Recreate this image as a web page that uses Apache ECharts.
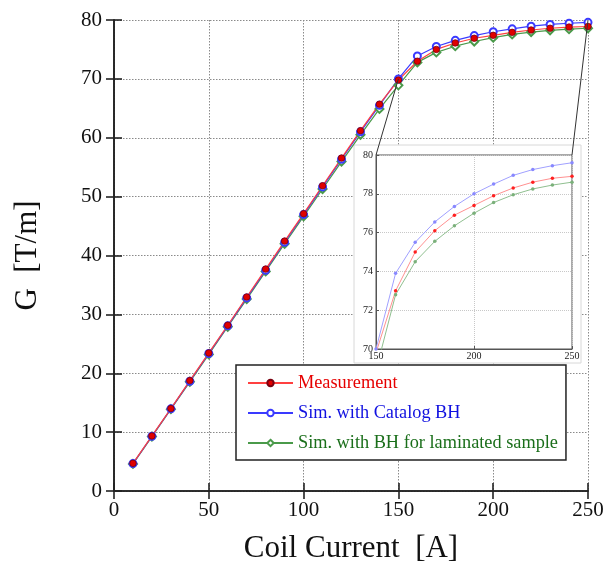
<!DOCTYPE html>
<html>
<head>
<meta charset="utf-8">
<script src="https://cdn.jsdelivr.net/npm/echarts@6/dist/echarts.min.js"></script>
<style>
  html, body { margin: 0; padding: 0; background: #fff; }
  #chart { width: 610px; height: 574px; }
</style>
</head>
<body>
<div id="chart"></div>
<script>
// Coil current (A) at each measured / simulated point
const currents = [10, 20, 30, 40, 50, 60, 70, 80, 90, 100, 110, 120, 130, 140, 150,
                  160, 170, 180, 190, 200, 210, 220, 230, 240, 250];
// Field gradient G (T/m)
const measured = [4.7, 9.35, 14.0, 18.75, 23.45, 28.15, 32.95, 37.7, 42.45, 47.1,
                  51.85, 56.55, 61.2, 65.7, 69.8, 73.0, 75.0, 76.1, 76.9, 77.4,
                  77.9, 78.3, 78.6, 78.8, 78.9];
const simCatalog = [4.65, 9.3, 13.95, 18.65, 23.35, 28.05, 32.8, 37.5, 42.25, 46.95,
                    51.65, 56.35, 61.0, 65.5, 70.0, 73.9, 75.5, 76.55, 77.35, 78.0,
                    78.5, 78.95, 79.25, 79.45, 79.6];
const simLaminated = [4.6, 9.25, 13.9, 18.55, 23.2, 27.9, 32.6, 37.3, 42.0, 46.65,
                      51.3, 55.95, 60.5, 64.9, 68.9, 72.8, 74.5, 75.55, 76.35, 77.0,
                      77.55, 77.95, 78.25, 78.45, 78.6];

const seriesNames = ['Measurement', 'Sim. with Catalog BH', 'Sim. with BH for laminated sample'];

// Axis ranges: main plot and the magnified saturation region
const mainX = { min: 0, max: 250, step: 50 };
const mainY = { min: 0, max: 80, step: 10 };
const zoomX = { min: 150, max: 250, step: 50 };
const zoomY = { min: 70, max: 80, step: 2 };

const serif = '"Liberation Serif", "DejaVu Serif", serif';
const pairs = ys => currents.map((x, i) => [x, ys[i]]);

const chart = echarts.init(document.getElementById('chart'), null, { renderer: 'canvas' });

const mainSplit = { show: true, lineStyle: { color: '#8a8a8a', type: [1.5, 1.5], width: 1 } };
const zoomSplit = { show: true, lineStyle: { color: '#c8c8c8', type: [1, 1], width: 1 } };

function mainAxis(extra) {
  return Object.assign({
    type: 'value', gridIndex: 0,
    axisLine: { show: true, lineStyle: { color: '#222', width: 1.6 } },
    axisTick: { show: true, inside: true, length: 8, lineStyle: { color: '#222', width: 1.6 } },
    axisLabel: { show: false },
    splitLine: { show: false }
  }, extra);
}
function zoomAxis(extra) {
  return Object.assign({
    type: 'value', gridIndex: 1, z: 4,
    axisLine: { show: true, lineStyle: { color: '#555', width: 1 } },
    axisTick: { show: true, inside: true, length: 3, lineStyle: { color: '#555', width: 1 } },
    axisLabel: { show: false },
    splitLine: { show: false }
  }, extra);
}

const option = {
  animation: false,
  backgroundColor: '#fff',
  grid: [
    { left: 114, right: 22, top: 20, bottom: 83 },
    { left: 376, top: 155, width: 196, height: 194, z: 4,
      show: true, borderColor: '#555', borderWidth: 1, backgroundColor: 'transparent' }
  ],
  xAxis: [
    mainAxis({
      min: mainX.min, max: mainX.max, interval: mainX.step,
      axisLabel: { show: true, fontFamily: serif, fontSize: 21, color: '#111', margin: 9 },
      splitLine: mainSplit,
      name: 'Coil Current  [A]', nameLocation: 'middle', nameGap: 42,
      nameTextStyle: { fontFamily: serif, fontSize: 31, color: '#111' }
    }),
    mainAxis({ min: mainX.min, max: mainX.max, interval: mainX.step, position: 'top' }),
    zoomAxis({
      min: zoomX.min, max: zoomX.max, interval: zoomX.step,
      axisLabel: { show: true, fontFamily: serif, fontSize: 10, color: '#222', margin: 2 },
      splitLine: zoomSplit
    })
  ],
  yAxis: [
    mainAxis({
      min: mainY.min, max: mainY.max, interval: mainY.step,
      axisLabel: { show: true, fontFamily: serif, fontSize: 21, color: '#111', margin: 12 },
      splitLine: mainSplit,
      name: 'G  [T/m]', nameLocation: 'middle', nameGap: 71,
      nameTextStyle: { fontFamily: serif, fontSize: 31, color: '#111' }
    }),
    mainAxis({ min: mainY.min, max: mainY.max, interval: mainY.step, position: 'right' }),
    zoomAxis({
      min: zoomY.min, max: zoomY.max, interval: zoomY.step,
      axisLabel: { show: true, fontFamily: serif, fontSize: 10, color: '#222', margin: 3 },
      splitLine: zoomSplit
    })
  ],
  legend: {
    orient: 'vertical', left: 236, top: 365, z: 10,
    padding: [9, 8, 8, 11], itemGap: 12, itemWidth: 45, itemHeight: 8,
    backgroundColor: '#fff', borderColor: '#222', borderWidth: 1.5, borderRadius: 0,
    textStyle: { fontFamily: serif, fontSize: 18.3 },
    data: [
      { name: seriesNames[0], textStyle: { color: '#e60000' } },
      { name: seriesNames[1], textStyle: { color: '#1010e0' } },
      { name: seriesNames[2], textStyle: { color: '#1a6e1a' } }
    ]
  },
  series: [
    // main plot
    {
      name: seriesNames[2], type: 'line', xAxisIndex: 0, yAxisIndex: 0, clip: false,
      data: pairs(simLaminated), symbol: 'emptyDiamond', symbolSize: 8,
      lineStyle: { color: '#4a9a4a', width: 1.2 },
      itemStyle: { color: '#4a9a4a', borderColor: '#4a9a4a', borderWidth: 1 }
    },
    {
      name: seriesNames[1], type: 'line', xAxisIndex: 0, yAxisIndex: 0, clip: false,
      data: pairs(simCatalog), symbol: 'emptyCircle', symbolSize: 7,
      lineStyle: { color: '#3a3aff', width: 1.2 },
      itemStyle: { color: '#3a3aff', borderColor: '#3a3aff', borderWidth: 1 }
    },
    {
      name: seriesNames[0], type: 'line', xAxisIndex: 0, yAxisIndex: 0, clip: false,
      data: pairs(measured), symbol: 'circle', symbolSize: 6.5,
      lineStyle: { color: '#ff4040', width: 1.2 },
      itemStyle: { color: '#e00000', borderColor: '#7a0010', borderWidth: 0.8 }
    },
    // magnified region
    {
      name: seriesNames[2], type: 'line', xAxisIndex: 2, yAxisIndex: 2, z: 5, clip: true,
      data: pairs(simLaminated), symbol: 'circle', symbolSize: 3.5,
      lineStyle: { color: '#8fbf8f', width: 1 },
      itemStyle: { color: '#7ab07a' }
    },
    {
      name: seriesNames[1], type: 'line', xAxisIndex: 2, yAxisIndex: 2, z: 5, clip: true,
      data: pairs(simCatalog), symbol: 'circle', symbolSize: 3.5,
      lineStyle: { color: '#a0a0ff', width: 1 },
      itemStyle: { color: '#8888ff' }
    },
    {
      name: seriesNames[0], type: 'line', xAxisIndex: 2, yAxisIndex: 2, z: 5, clip: true,
      data: pairs(measured), symbol: 'circle', symbolSize: 3.5,
      lineStyle: { color: '#ff9090', width: 1 },
      itemStyle: { color: '#ff2020' }
    }
  ]
};
chart.setOption(option);

// White panel behind the magnified plot and lines tying it to the main curve
const pLow = chart.convertToPixel({ gridIndex: 0 }, [zoomX.min, zoomY.min]);
const pHigh = chart.convertToPixel({ gridIndex: 0 }, [zoomX.max, zoomY.max]);
const qLeft = chart.convertToPixel({ gridIndex: 1 }, [zoomX.min, zoomY.max]);
const qRight = chart.convertToPixel({ gridIndex: 1 }, [zoomX.max, zoomY.max]);
const qBottom = chart.convertToPixel({ gridIndex: 1 }, [zoomX.min, zoomY.min]);

chart.setOption({
  graphic: [
    {
      type: 'rect', z: 3,
      shape: { x: qLeft[0] - 22, y: qLeft[1] - 10, width: (qRight[0] - qLeft[0]) + 31, height: (qBottom[1] - qLeft[1]) + 24 },
      style: { fill: '#fff', stroke: '#d8d8d8', lineWidth: 1 }
    },
    {
      type: 'line', z: 6,
      shape: { x1: pLow[0], y1: pLow[1], x2: qLeft[0], y2: qLeft[1] },
      style: { stroke: '#333', lineWidth: 1 }
    },
    {
      type: 'line', z: 6,
      shape: { x1: pHigh[0], y1: pHigh[1], x2: qRight[0], y2: qRight[1] },
      style: { stroke: '#333', lineWidth: 1 }
    }
  ]
});
</script>
</body>
</html>
